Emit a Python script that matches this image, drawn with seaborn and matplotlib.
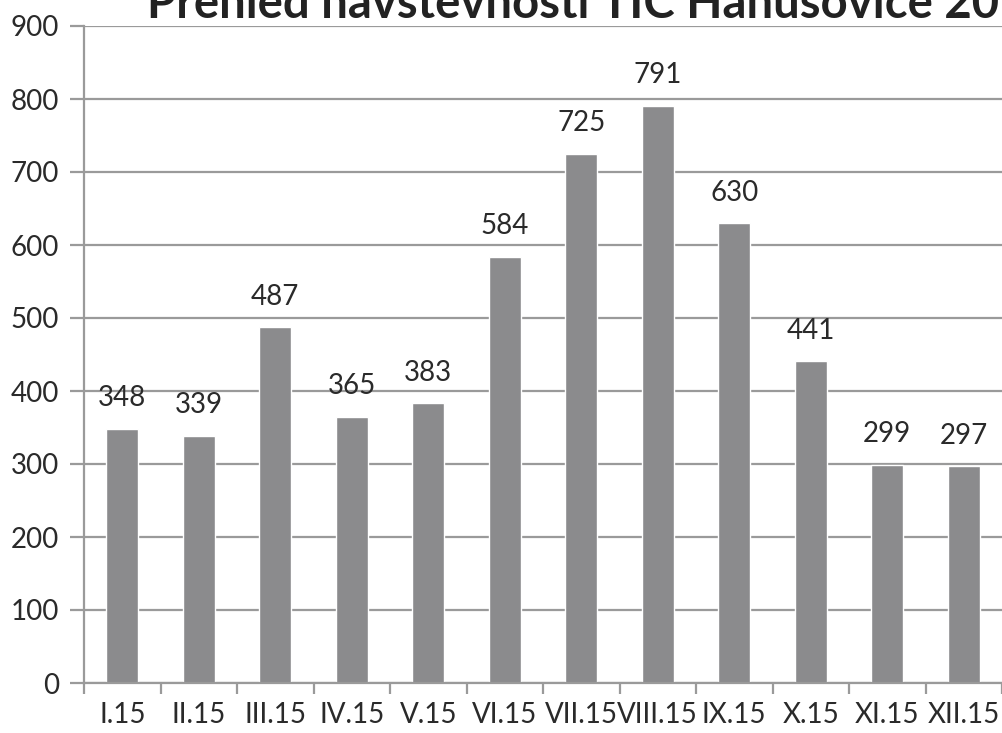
import matplotlib
matplotlib.use("Agg")
import matplotlib.pyplot as plt
import seaborn as sns
import numpy as np
import pandas as pd

# data
months = ["I.15", "II.15", "III.15", "IV.15", "V.15", "VI.15",
          "VII.15", "VIII.15", "IX.15", "X.15", "XI.15", "XII.15"]
visits = [348, 339, 487, 365, 383, 584, 725, 791, 630, 441, 299, 297]
title = "Přehled návštěvnosti TIC Hanušovice 2015"

df = pd.DataFrame({"month": months, "visits": visits})

sns.set_style("white")
plt.rcParams["font.family"] = ["Lato", "DejaVu Sans"]

fig = plt.figure(figsize=(10.02, 7.33), dpi=100)
ax = fig.add_axes([84 / 1002, 50 / 733, 918 / 1002, 657 / 733])

grid_c = "#9a9a9a"
ax.set_axisbelow(True)
ax.yaxis.grid(True, color=grid_c, linewidth=1.6)

sns.barplot(data=df, x="month", y="visits", color="#8b8b8d", saturation=1,
            width=0.42, ax=ax)

for i, v in enumerate(visits):
    ax.text(i, v + 24, str(v), ha="center", va="bottom", fontsize=20, color="#2a2a2a")

ax.set_xlim(-0.5, 11.5)
ax.set_ylim(0, 900)
ax.set_yticks(range(0, 901, 100))
ax.tick_params(axis="y", labelsize=20, length=10, width=1.6, color=grid_c,
               labelcolor="#2a2a2a", pad=8, direction="out", left=True)
ax.set_xticks(range(len(months)))
ax.set_xticklabels(months)
ax.tick_params(axis="x", which="major", length=0, labelsize=20, labelcolor="#2a2a2a", pad=14)
ax.set_xticks(np.arange(-0.5, 12, 1), minor=True)
ax.tick_params(axis="x", which="minor", length=8, width=1.6, color=grid_c, direction="out", bottom=True)
ax.set_xlabel("")
ax.set_ylabel("")

for s in ["top", "right"]:
    ax.spines[s].set_visible(False)
for s in ["left", "bottom"]:
    ax.spines[s].set_color(grid_c)
    ax.spines[s].set_linewidth(1.6)

fig.text(147 / 1002, 1 - 18 / 733, title, ha="left", va="baseline",
         fontsize=34, fontweight="bold", color="#222222")

fig.savefig("out.png", dpi=100)
